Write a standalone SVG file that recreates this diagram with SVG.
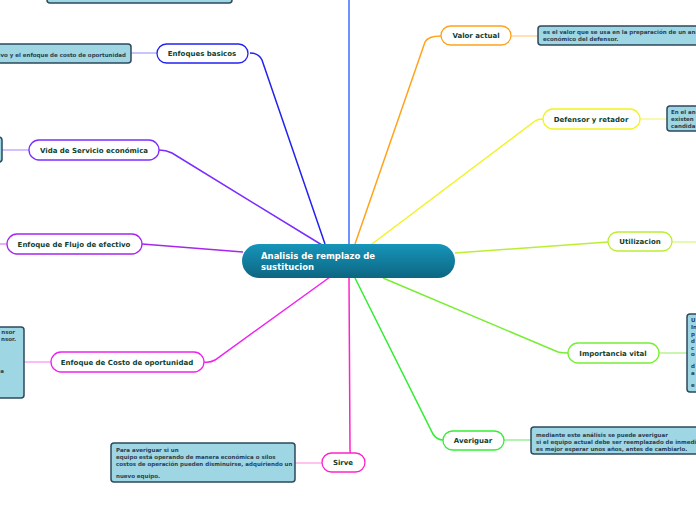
<svg xmlns="http://www.w3.org/2000/svg" width="696" height="520" viewBox="0 0 696 520">
<defs>
<linearGradient id="cg" x1="0" y1="0" x2="0" y2="1">
<stop offset="0" stop-color="#1695ba"/>
<stop offset="1" stop-color="#0d6682"/>
</linearGradient>
<style>
.n{fill:#fff;stroke-width:1.3}
.nt{font-family:"DejaVu Sans",Verdana,sans-serif;font-weight:bold;font-size:7px;fill:#0f3f2f;text-anchor:middle}
.b{fill:#9fd6e4;stroke:#2d4a5c;stroke-width:1.5}
.bt{font-family:"DejaVu Sans",Verdana,sans-serif;font-weight:bold;font-size:5.5px;fill:#2d3e50}
.c{fill:none;stroke-width:1.5}
.l{fill:none;stroke-width:1.5}
</style>
</defs>
<rect width="696" height="520" fill="#fff"/>
<g id="connectors">
<path class="c" stroke="#3f6bff" d="M349,244 L349,0"/>
<path class="c" stroke="#2222ee" d="M325,244 L262,60 Q259,53 250,53"/>
<path class="c" stroke="#7b2dff" d="M322,245 L172,153 Q166,150 159,150"/>
<path class="c" stroke="#a726ee" d="M243,252 L142,244"/>
<path class="c" stroke="#ee22ee" d="M330,277 L215,360 Q210,363 204,362"/>
<path class="c" stroke="#ff22cc" d="M349,278 L350,450 Q350,460 357,461"/>
<path class="c" stroke="#33ee33" d="M355,278 L433,434 Q437,440 443,440"/>
<path class="c" stroke="#77ee33" d="M383,278 L558,352 Q562,353 568,353"/>
<path class="c" stroke="#bbee33" d="M455,253 L608,242"/>
<path class="c" stroke="#f2f222" d="M372,244 L535,121 Q538,119 543,119"/>
<path class="c" stroke="#ffa31a" d="M355,244 L425,42 Q428,36 441,36"/>
<path class="l" stroke="#b3b3ff" d="M157,53 L131,53"/>
<path class="l" stroke="#c9a9ff" d="M29,150 L2,150"/>
<path class="l" stroke="#d89af5" d="M7,244 L0,244"/>
<path class="l" stroke="#f7a6f7" d="M51,362 L24,362"/>
<path class="l" stroke="#ffb0e8" d="M322,463 L295,463"/>
<path class="l" stroke="#99f299" d="M504,440 L531,440"/>
<path class="l" stroke="#b7f294" d="M659,353 L687,353"/>
<path class="l" stroke="#dcf797" d="M672,242 L696,242"/>
<path class="l" stroke="#f8f59a" d="M640,119 L667,119"/>
<path class="l" stroke="#ffd89a" d="M511,36 L538,36"/>
</g>
<g id="top-box"><rect class="b" x="47" y="-20" width="185" height="23" rx="3"/></g>
<g id="center">
<rect x="242" y="244" width="213" height="34" rx="17" fill="url(#cg)"/>
<text x="261" y="259" font-family="DejaVu Sans,Verdana,sans-serif" font-weight="bold" font-size="8.5" fill="#fff">Analisis de remplazo de</text>
<text x="261" y="270" font-family="DejaVu Sans,Verdana,sans-serif" font-weight="bold" font-size="8.5" fill="#fff">sustitucion</text>
</g>
<g id="enfoques-basicos">
<rect class="b" x="-20" y="44" width="151" height="19" rx="3"/>
<text class="bt" x="126" y="57" text-anchor="end">ivo y el enfoque de costo de oportunidad</text>
<rect class="n" stroke="#2222ee" x="157" y="44" width="91" height="19" rx="9.5"/>
<text class="nt" x="202" y="56">Enfoques basicos</text>
</g>
<g id="vida-servicio">
<rect class="b" x="-20" y="137" width="22" height="25" rx="3"/>
<rect class="n" stroke="#7b2dff" x="29" y="140" width="130" height="20" rx="10"/>
<text class="nt" x="94" y="153">Vida de Servicio económica</text>
</g>
<g id="flujo-efectivo">
<rect class="n" stroke="#a726ee" x="7" y="234" width="135" height="20" rx="10"/>
<text class="nt" x="74" y="247">Enfoque de Flujo de efectivo</text>
</g>
<g id="costo-oportunidad">
<rect class="b" x="-20" y="327" width="44" height="71" rx="3"/>
<text class="bt" x="15" y="334" text-anchor="end">nsor</text>
<text class="bt" x="16" y="341" text-anchor="end">nsor.</text>
<text class="bt" x="4" y="373" text-anchor="end">a</text>
<rect class="n" stroke="#ee22ee" x="51" y="352" width="153" height="20" rx="10"/>
<text class="nt" x="127" y="365">Enfoque de Costo de oportunidad</text>
</g>
<g id="sirve">
<rect class="b" x="111" y="443" width="184" height="39" rx="3"/>
<text class="bt" x="116" y="452">Para averiguar si un</text>
<text class="bt" x="116" y="459">equipo está operando de manera económica o silos</text>
<text class="bt" x="116" y="466">costos de operación pueden disminuirse, adquiriendo un</text>
<text class="bt" x="116" y="478">nuevo equipo.</text>
<rect class="n" stroke="#ff22cc" x="322" y="453" width="43" height="19" rx="9.5"/>
<text class="nt" x="343" y="465">Sirve</text>
</g>
<g id="averiguar">
<rect class="n" stroke="#33ee33" x="443" y="431" width="61" height="19" rx="9.5"/>
<text class="nt" x="473" y="443">Averiguar</text>
<rect class="b" x="531" y="427" width="185" height="27" rx="3"/>
<text class="bt" x="536" y="437">mediante este análisis se puede averiguar</text>
<text class="bt" x="536" y="444">si el equipo actual debe ser reemplazado de inmedia</text>
<text class="bt" x="536" y="451">es mejor esperar unos años, antes de cambiarlo.</text>
</g>
<g id="importancia-vital">
<rect class="n" stroke="#77ee33" x="568" y="343" width="91" height="20" rx="10"/>
<text class="nt" x="613" y="356">Importancia vital</text>
<rect class="b" x="687" y="314" width="30" height="78" rx="3"/>
<text class="bt" x="691" y="322">U</text>
<text class="bt" x="691" y="329">In</text>
<text class="bt" x="691" y="336">p</text>
<text class="bt" x="691" y="343">d</text>
<text class="bt" x="691" y="350">c</text>
<text class="bt" x="691" y="356">o</text>
<text class="bt" x="691" y="368">d</text>
<text class="bt" x="691" y="375">a</text>
<text class="bt" x="691" y="387">e</text>
</g>
<g id="utilizacion">
<rect class="n" stroke="#bbee33" x="608" y="232" width="64" height="19" rx="9.5"/>
<text class="nt" x="640" y="244">Utilizacion</text>
</g>
<g id="defensor-retador">
<rect class="n" stroke="#f2f222" x="543" y="109" width="97" height="20" rx="10"/>
<text class="nt" x="591" y="122">Defensor y retador</text>
<rect class="b" x="667" y="106" width="40" height="25" rx="3"/>
<text class="bt" x="671" y="114">En el an</text>
<text class="bt" x="671" y="121">existen</text>
<text class="bt" x="671" y="128">candida</text>
</g>
<g id="valor-actual">
<rect class="n" stroke="#ffa31a" x="441" y="26" width="70" height="19" rx="9.5"/>
<text class="nt" x="476" y="38">Valor actual</text>
<rect class="b" x="538" y="26" width="180" height="19" rx="3"/>
<text class="bt" x="543" y="34">es el valor que se usa en la preparación de un aná</text>
<text class="bt" x="543" y="41">económico del defensor.</text>
</g>
</svg>
